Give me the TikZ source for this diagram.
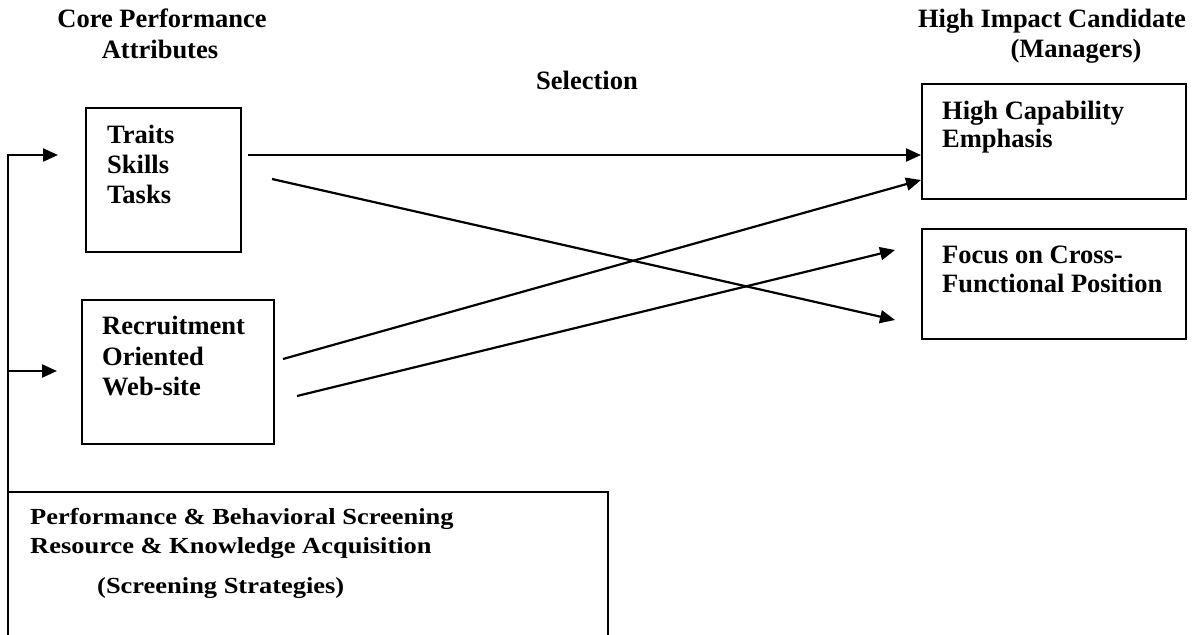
\documentclass[tikz,border=0pt]{standalone}
\usepackage{fontspec}
\setmainfont{Liberation Serif}
\newfontfamily\widefont{Liberation Serif}[FakeStretch=1.15]
\usetikzlibrary{arrows.meta}
\tikzset{
  lbl/.style={font=\fontsize{26.5}{30}\selectfont\bfseries, inner sep=0pt, anchor=base west, align=left},
  widelbl/.style={font=\widefont\fontsize{23}{28}\selectfont\bfseries, inner sep=0pt, anchor=base west, align=left},
  hdr/.style={font=\fontsize{26.5}{30}\selectfont\bfseries, inner sep=0pt, anchor=base},
  boxn/.style={draw, line width=2pt, inner sep=0pt, anchor=north west},
  conn/.style={line width=2.2pt, -{Triangle[length=15pt,width=13pt]}},
}
\begin{document}
\begin{tikzpicture}[x=1pt,y=-1pt]
\useasboundingbox (0,0) rectangle (1201,634);
% headings
\node[hdr] (h1) at (162,28) {Core Performance};
\node[hdr] (h2) at (160,59) {Attributes};
\node[hdr] (h3) at (587,89) {Selection};
\node[hdr] (h4) at (1052,28) {High Impact Candidate};
\node[hdr] (h5) at (1076,58) {(Managers)};
% boxes
\node[boxn, minimum width=155, minimum height=144] (traits) at (85,107) {};
\node[boxn, minimum width=192, minimum height=144] (recruit) at (81,299) {};
\node[boxn, minimum width=264, minimum height=115] (cap) at (921,83) {};
\node[boxn, minimum width=264, minimum height=110] (cross) at (921,228) {};
\coordinate (scrTL) at (8,492);
\coordinate (scrTR) at (608,492);
\draw[line width=2pt] (8,640) -- (scrTL) -- (scrTR) -- (608,640);
% texts
\node[lbl] (t1) at (107,143) {Traits};
\node[lbl] (t2) at (107,173) {Skills};
\node[lbl] (t3) at (107,203) {Tasks};
\node[lbl] (r1) at (102,334) {Recruitment};
\node[lbl] (r2) at (102,365) {Oriented};
\node[lbl] (r3) at (102,395) {Web-site};
\node[lbl] (c1) at (942,119) {High Capability};
\node[lbl] (c2) at (942,147) {Emphasis};
\node[lbl] (f1) at (942,263) {Focus on Cross-};
\node[lbl] (f2) at (942,292) {Functional Position};
\node[widelbl] (s1) at (30,524) {Performance \& Behavioral Screening};
\node[widelbl] (s2) at (30,553) {Resource \& Knowledge Acquisition};
\node[widelbl] (s3) at (97,593) {(Screening Strategies)};
% connector end points
\coordinate (a1s) at (248,155);
\coordinate (a1e) at (921,155);
\coordinate (a2s) at (272,179);
\coordinate (a2e) at (895,320);
\coordinate (a3s) at (283,359);
\coordinate (a3e) at (921,180);
\coordinate (a4s) at (297,396);
\coordinate (a4e) at (895,250);
\coordinate (fb0) at (8,634);
\coordinate (fb1) at (8,155);
\coordinate (fb1e) at (58,155);
\coordinate (fb2) at (8,371);
\coordinate (fb2e) at (57,371);
% connectors
\draw[conn] (a1s) -- (a1e);
\draw[conn] (a2s) -- (a2e);
\draw[conn] (a3s) -- (a3e);
\draw[conn] (a4s) -- (a4e);
\draw[conn] (fb0) -- (fb1) -- (fb1e);
\draw[conn] (fb2) -- (fb2e);
\end{tikzpicture}
\end{document}
